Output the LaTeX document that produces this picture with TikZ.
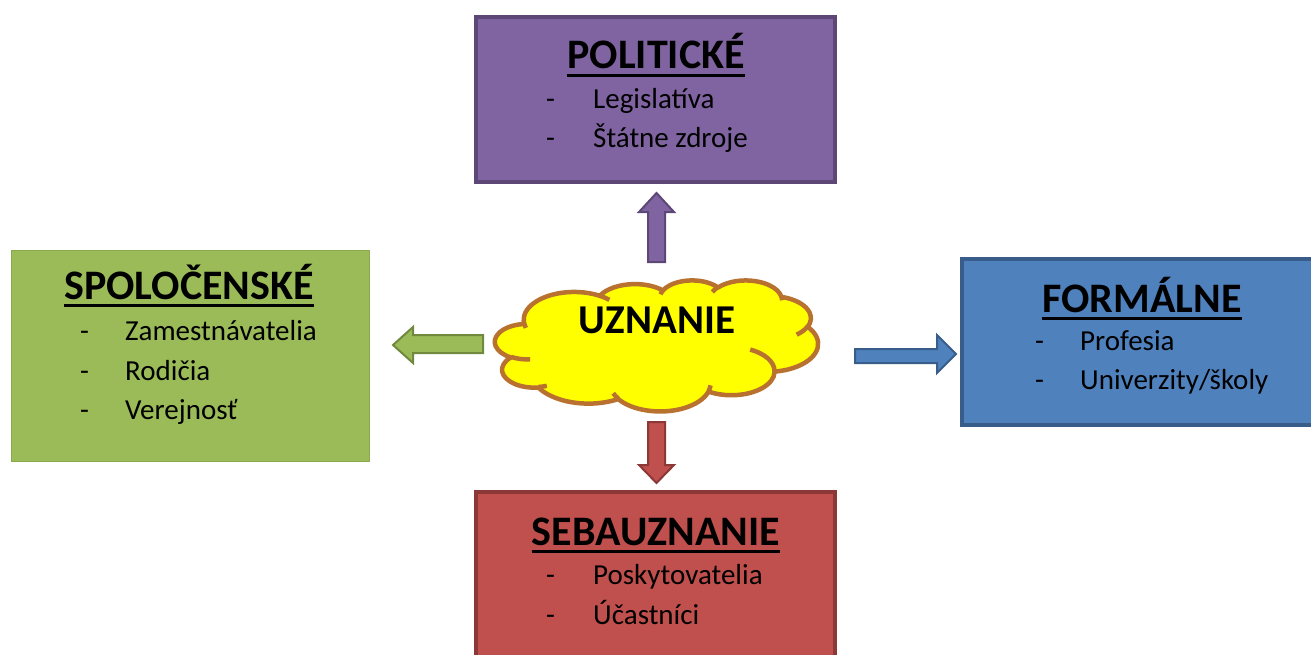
\documentclass[tikz,border=0pt]{standalone}
\usepackage{fontspec}
\setmainfont{Carlito}
\definecolor{polfill}{HTML}{8064A2}
\definecolor{poldraw}{HTML}{5C4776}
\definecolor{spofill}{HTML}{9BBB59}
\definecolor{spodraw}{HTML}{8AAA4C}
\definecolor{spoarrow}{HTML}{71893F}
\definecolor{forfill}{HTML}{4F81BD}
\definecolor{fordraw}{HTML}{385D8A}
\definecolor{sebfill}{HTML}{C0504D}
\definecolor{sebdraw}{HTML}{8C3836}
\definecolor{cloudline}{HTML}{B9712F}
\definecolor{cloudfill}{HTML}{FFFF00}
\tikzset{
  box/.style={rectangle, inner sep=0pt, outer sep=0pt},
  ttl/.style={anchor=base, inner sep=0pt, font=\fontsize{42}{50}\selectfont\bfseries},
  itm/.style={anchor=base west, inner sep=0pt, font=\fontsize{29}{35}\selectfont},
  uline/.style={line width=3pt, black},
  blockarrow/.style={line width=2pt, line join=miter},
  cloudst/.style={draw=cloudline, line width=4.5pt},
  carc/.style n args={4}{x radius=#1, y radius=#2,
     start angle={atan2(#1*sin(#3),#2*cos(#3))},
     delta angle={mod(atan2(#1*sin(#3+#4),#2*cos(#3+#4))-atan2(#1*sin(#3),#2*cos(#3))+720,360)}},
}
\begin{document}
\begin{tikzpicture}[x=1pt,y=-1pt]
\useasboundingbox (0,0) rectangle (1311,655);
% boxes
\node[box, fill=polfill, draw=poldraw, line width=4pt, minimum width=359pt, minimum height=165pt] (pol) at (655.5,99.5) {};
\node[box, fill=spofill, draw=spodraw, line width=1pt, minimum width=358pt, minimum height=211pt] (spo) at (190.5,356) {};
\node[box, fill=forfill, draw=fordraw, line width=4pt, minimum width=360pt, minimum height=166pt] (for) at (1142,342) {};
\node[box, fill=sebfill, draw=sebdraw, line width=4pt, minimum width=359pt, minimum height=180pt] (seb) at (655.5,582) {};
% titles
\node[ttl] (polt) at (656,69) {POLITICKÉ};
\node[ttl] (spot) at (189,299) {SPOLOČENSKÉ};
\node[ttl] (fort) at (1142,312) {FORMÁLNE};
\node[ttl] (sebt) at (656,545) {SEBAUZNANIE};
\foreach \t in {polt,spot,fort,sebt}
  \draw[uline] ([yshift=-6.5pt]\t.base west) -- ([yshift=-6.5pt]\t.base east);
% items
\node[itm] (pd1) at (546,109) {-};
\node[itm] (pi1) at (593,109) {Legislatíva};
\node[itm] (pd2) at (546,148) {-};
\node[itm] (pi2) at (593,148) {Štátne zdroje};
\node[itm] (sd1) at (80,340) {-};
\node[itm] (si1) at (125,340) {Zamestnávatelia};
\node[itm] (sd2) at (80,380) {-};
\node[itm] (si2) at (125,380) {Rodičia};
\node[itm] (sd3) at (80,419) {-};
\node[itm] (si3) at (125,419) {Verejnosť};
\node[itm] (fd1) at (1035,350) {-};
\node[itm] (fi1) at (1080,350) {Profesia};
\node[itm] (fd2) at (1035,389) {-};
\node[itm] (fi2) at (1080,389) {Univerzity/školy};
\node[itm] (sbd1) at (546,584) {-};
\node[itm] (sbi1) at (593,584) {Poskytovatelia};
\node[itm] (sbd2) at (546,624) {-};
\node[itm] (sbi2) at (593,624) {Účastníci};
% cloud (path units: 1/10 of the 43200 grid)
\begin{scope}[shift={(495,280)}, x=0.074769pt, y=-0.030324pt]
\filldraw[cloudst, fill=cloudfill, line join=round] (390,1437)
  arc[carc={675.3}{919.0}{-190.4875}{123.7805}]
  arc[carc={533.3}{726.7}{-144.1024}{89.9452}]
  arc[carc={436.5}{594.5}{-145.8079}{99.7230}]
  arc[carc={485.7}{659.5}{-130.9861}{117.2417}]
  arc[carc={533.3}{727.3}{-78.7089}{109.0269}]
  arc[carc={677.5}{922.0}{-46.2673}{130.2690}]
  arc[carc={578.5}{786.7}{0.6250}{114.0333}]
  arc[carc={675.2}{921.5}{22.4516}{115.1726}]
  arc[carc={772.0}{1054.3}{66.2426}{75.7110}]
  arc[carc={436.0}{591.8}{-274.9421}{146.7356}]
  arc[carc={434.5}{594.5}{-246.8285}{152.5189}]
  -- cycle;
\draw[cloudst]
  (469.3,2617.7) arc[carc={434.5}{594.5}{86.7420}{26.4295}]
  (692.8,3489.9) arc[carc={436.0}{591.8}{73.6105}{11.4475}]
  (1647.8,3909.0) arc[carc={675.2}{921.5}{137.6242}{14.0811}]
  (2882.7,3475.1) arc[carc={675.2}{921.5}{6.4533}{15.9984}]
  (3412.9,2295.4) arc[carc={578.5}{786.7}{-70.2924}{70.9174}]
  (4179.8,1535.4) arc[carc={533.3}{727.3}{30.3180}{27.7515}]
  (3832.4,542.6) arc[carc={485.7}{659.5}{-13.7443}{14.8589}]
  (2907.8,395.2) arc[carc={485.7}{659.5}{-149.1815}{18.1954}]
  (2214.1,472.0) arc[carc={436.5}{594.5}{-163.4943}{17.6864}]
  (1400.0,519.2) arc[carc={675.3}{919.0}{-66.7070}{12.3194}]
  (412.7,1578.9) arc[carc={675.3}{919.0}{157.6544}{11.8582}];
\end{scope}
\node[anchor=base, inner sep=0pt, font=\fontsize{41}{49}\selectfont\bfseries] (clt) at (657,333) {UZNANIE};
% block arrows
\draw[blockarrow, fill=polfill, draw=poldraw]
  (648,262) -- (648,212) -- (639,212) -- (656.5,193) -- (674,212) -- (665,212) -- (665,262) -- cycle;
\draw[blockarrow, fill=sebfill, draw=sebdraw]
  (648,422) -- (648,465) -- (639,465) -- (656.5,483) -- (674,465) -- (665,465) -- (665,422) -- cycle;
\draw[blockarrow, fill=spofill, draw=spoarrow]
  (483,335) -- (413,335) -- (413,327) -- (393,345) -- (413,363) -- (413,353) -- (483,353) -- cycle;
\draw[blockarrow, fill=forfill, draw=fordraw]
  (855,349) -- (937,349) -- (937,335) -- (956,354) -- (937,373) -- (937,363) -- (855,363) -- cycle;
\end{tikzpicture}
\end{document}
